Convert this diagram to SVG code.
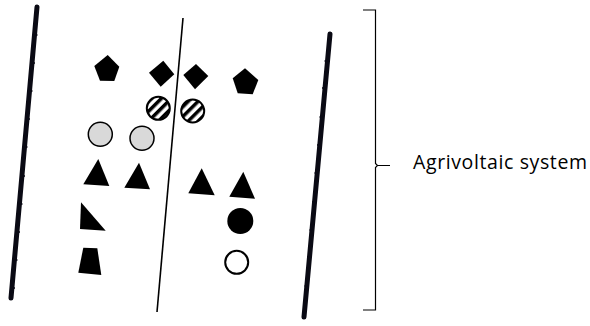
<svg xmlns="http://www.w3.org/2000/svg" width="590" height="326" viewBox="0 0 590 326">
<style>
.bar{stroke:#0a0a14;stroke-width:5;stroke-linecap:round;fill:none}
.tick{stroke:#0a0a14;stroke-width:1.6;fill:none}
.blk{fill:#000}
.grey{fill:#d9d9d9;stroke:#000;stroke-width:1.5}
.hatch{fill:url(#stripes);stroke:#000;stroke-width:2}
.open{fill:#fff;stroke:#000;stroke-width:2}
.lbl{font-family:"Open Sans","Liberation Sans",sans-serif;font-size:19.5px;fill:#000}
</style>
<defs>
<pattern id="stripes" patternUnits="userSpaceOnUse" width="7" height="7" patternTransform="rotate(-45)">
<rect width="7" height="7" fill="#fff"/>
<rect width="7" height="3.5" fill="#000"/>
</pattern>
</defs>
<g id="left-panel">
<line class="bar" x1="37" y1="7" x2="11" y2="298"/>
<path class="tick" d="M34.5 35h3M32 63h3M29.5 91h3M27 119h3M24.5 147h3M22 176h3M19.5 204h3M17 232h3M14.5 260h3M12 288h3"/>
</g>
<g id="right-panel">
<line class="bar" x1="330" y1="34" x2="304" y2="317"/>
<path class="tick" d="M324.5 61h3M322 88h3M319.5 117h3M317 145h3M314.5 173h3M312 202h3M309.5 230h3M307 257h3M304.5 286h3M302 313h3"/>
</g>
<g id="divider">
<line x1="183" y1="18" x2="157" y2="312" stroke="#000" stroke-width="1.6"/>
</g>
<g id="pentagon-1"><polygon class="blk" points="107.7,55 119.3,66.7 114.3,81 100,80.7 94.3,66"/></g>
<g id="diamond-1"><polygon class="blk" points="163.3,60.7 174.3,74.3 160.7,86.7 149,72.7"/></g>
<g id="diamond-2"><polygon class="blk" points="196,64 208.3,76 195,89.3 183.3,75"/></g>
<g id="pentagon-2"><polygon class="blk" points="245,68.3 258.3,80 252.7,94.3 237.7,93.3 232.7,78.3"/></g>
<g id="hatched-1"><circle class="hatch" cx="158.3" cy="108.3" r="11.5"/></g>
<g id="hatched-2"><circle class="hatch" cx="192.7" cy="111" r="11.5"/></g>
<g id="grey-1"><circle class="grey" cx="100.3" cy="134.3" r="12"/></g>
<g id="grey-2"><circle class="grey" cx="142" cy="138.3" r="12"/></g>
<g id="triangle-1"><polygon class="blk" points="98.3,159 109.3,186 83.3,184.3"/></g>
<g id="triangle-2"><polygon class="blk" points="139,162.7 150,189.3 124.3,187.7"/></g>
<g id="triangle-3"><polygon class="blk" points="201.7,168.3 214.7,195.3 188.3,193.3"/></g>
<g id="triangle-4"><polygon class="blk" points="243.3,171.7 255,198.7 229.3,196.7"/></g>
<g id="right-triangle"><polygon class="blk" points="81,202.3 105.7,230.7 80,229"/></g>
<g id="trapezoid"><polygon class="blk" points="83.3,247.7 97.3,248.3 101.3,275 78.3,272.7"/></g>
<g id="black-circle"><circle class="blk" cx="240.3" cy="221" r="13"/></g>
<g id="open-circle"><circle class="open" cx="236.7" cy="262.3" r="11.5"/></g>
<g id="brace">
<path d="M363 10H375.5V163.5L377.5 165.5L375.5 167.5V310H363M377.5 165.5H390" fill="none" stroke="#000" stroke-width="1.2"/>
</g>
<g id="label">
<text class="lbl" x="413" y="169" textLength="174" lengthAdjust="spacing">Agrivoltaic system</text>
</g>
</svg>
